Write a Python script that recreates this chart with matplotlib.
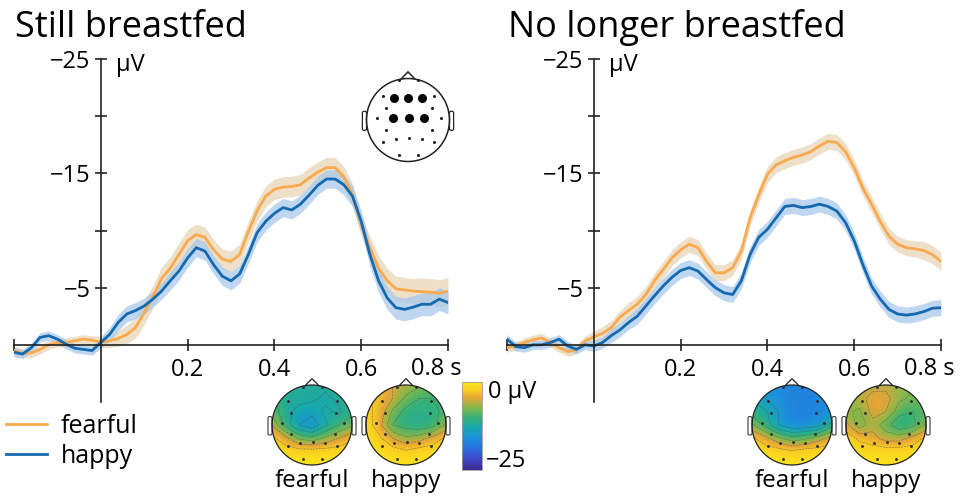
import numpy as np
import matplotlib
matplotlib.use("Agg")
import matplotlib.pyplot as plt
from matplotlib.colors import LinearSegmentedColormap, Normalize
from matplotlib.patches import Circle, Polygon, FancyBboxPatch
import matplotlib.cm as cm

plt.rcParams["font.family"] = ["Open Sans", "DejaVu Sans"]

# ---- ERP data (µV), sampled every 20 ms from -0.2 to 0.8 s ----
time_s = np.linspace(-0.2, 0.8, 51)

still_fearful = [0.5, 0.75, 0.7, 0.4, 0.0, -0.2, -0.2, -0.35, -0.5, -0.4,
                 -0.25, -0.35, -0.55, -0.9, -1.5, -2.8, -4.2, -5.8, -6.7, -7.9,
                 -9.1, -9.65, -9.4, -8.3, -7.5, -7.3, -7.9, -9.9, -11.7, -13.0,
                 -13.6, -13.8, -13.85, -14.0, -14.6, -15.1, -15.5, -15.5, -14.7, -13.1,
                 -10.5, -8.5, -6.7, -5.6, -4.9, -4.8, -4.7, -4.65, -4.6, -4.5, -4.7]
still_happy = [0.65, 0.8, 0.25, -0.65, -0.8, -0.5, -0.05, 0.3, 0.4, 0.5,
               -0.2, -0.9, -1.95, -2.7, -3.0, -3.4, -4.0, -4.7, -5.6, -6.45,
               -7.6, -8.5, -8.2, -7.0, -6.0, -5.6, -6.2, -7.9, -9.8, -10.8,
               -11.5, -12.0, -11.8, -12.3, -13.1, -13.95, -14.5, -14.5, -14.0, -13.0,
               -10.8, -7.9, -5.6, -4.1, -3.25, -3.1, -3.3, -3.55, -3.55, -4.0, -3.7]
nolonger_fearful = [0.25, 0.1, -0.2, -0.45, -0.6, -0.2, 0.25, 0.6, 0.4, -0.35,
                    -0.7, -1.0, -1.5, -2.4, -3.0, -3.55, -4.4, -5.6, -6.6, -7.6,
                    -8.3, -8.8, -8.5, -7.3, -6.3, -6.3, -6.75, -8.2, -11.1, -13.1,
                    -14.9, -15.75, -16.1, -16.4, -16.6, -16.9, -17.4, -17.8, -17.7, -16.9,
                    -15.5, -13.7, -12.3, -10.8, -9.5, -8.8, -8.5, -8.4, -8.25, -7.9, -7.3]
nolonger_happy = [-0.5, 0.15, 0.25, 0.0, 0.0, -0.2, -0.5, 0.1, 0.4, 0.0,
                  0.1, -0.2, -0.8, -1.3, -1.95, -2.5, -3.4, -4.3, -5.15, -5.9,
                  -6.5, -6.75, -6.45, -5.7, -5.0, -4.55, -4.4, -5.6, -7.9, -9.4,
                  -10.1, -11.1, -12.1, -12.2, -12.0, -12.1, -12.3, -12.1, -11.7, -10.7,
                  -9.1, -7.0, -5.15, -4.0, -3.1, -2.7, -2.6, -2.7, -2.9, -3.2, -3.25]

# standard error (half width of the shaded band)
still_fearful_sem = [0.4, 0.4, 0.4, 0.4, 0.4, 0.4, 0.4, 0.4, 0.4, 0.4,
                     0.5, 0.6, 0.7, 0.8, 0.9, 1.0, 1.0, 1.0, 1.0, 1.0,
                     1.0, 0.9, 0.9, 0.9, 0.9, 0.9, 0.9, 0.9, 0.9, 0.9,
                     0.9, 0.9, 0.9, 0.9, 0.9, 0.9, 0.9, 0.9, 0.9, 1.0,
                     1.0, 1.0, 1.1, 1.1, 1.1, 1.1, 1.1, 1.2, 1.2, 1.2, 1.2]
still_happy_sem = [0.4, 0.4, 0.4, 0.4, 0.4, 0.4, 0.4, 0.4, 0.4, 0.4,
                   0.5, 0.6, 0.7, 0.7, 0.7, 0.7, 0.7, 0.7, 0.8, 0.8,
                   0.8, 0.8, 0.8, 0.8, 0.8, 0.8, 0.8, 0.8, 0.8, 0.8,
                   0.8, 0.8, 0.8, 0.8, 0.8, 0.8, 0.8, 0.8, 0.9, 0.9,
                   0.9, 1.0, 1.0, 1.0, 1.0, 1.0, 1.0, 1.0, 1.0, 1.0, 1.0]
nolonger_fearful_sem = [0.4, 0.4, 0.4, 0.4, 0.4, 0.4, 0.4, 0.4, 0.4, 0.4,
                        0.5, 0.6, 0.6, 0.6, 0.7, 0.7, 0.7, 0.7, 0.7, 0.7,
                        0.7, 0.7, 0.7, 0.7, 0.7, 0.7, 0.7, 0.7, 0.7, 0.7,
                        0.7, 0.7, 0.7, 0.7, 0.7, 0.7, 0.7, 0.7, 0.7, 0.7,
                        0.7, 0.7, 0.7, 0.7, 0.7, 0.7, 0.7, 0.7, 0.8, 0.8, 0.8]
nolonger_happy_sem = [0.4, 0.4, 0.4, 0.4, 0.4, 0.4, 0.4, 0.4, 0.4, 0.4,
                      0.5, 0.5, 0.6, 0.6, 0.6, 0.7, 0.7, 0.7, 0.7, 0.7,
                      0.7, 0.7, 0.7, 0.7, 0.7, 0.7, 0.7, 0.7, 0.7, 0.7,
                      0.7, 0.7, 0.7, 0.7, 0.7, 0.7, 0.7, 0.7, 0.7, 0.7,
                      0.7, 0.7, 0.7, 0.7, 0.7, 0.7, 0.7, 0.7, 0.7, 0.7, 0.7]

conditions = ["fearful", "happy"]
panel_titles = ["Still breastfed", "No longer breastfed"]
x_ticks = [-0.2, 0.2, 0.4, 0.6, 0.8]
x_tick_labels = ["", "0.2", "0.4", "0.6", ""]
y_ticks = [-25, -20, -15, -10, -5]
y_tick_labels = ["\u221225", "", "\u221215", "", "\u22125"]

# ---- topographies (µV), 7x7 grid, front row first ----
topo_still_fearful = [[-10, -11, -12, -12, -12, -11, -10],
                      [-9, -12, -12, -12, -13, -12, -10],
                      [-8, -12, -13, -14, -12, -13, -11],
                      [-5, -11, -15, -17, -13, -10, -8],
                      [-2, -4, -8, -9, -7, -5, -3],
                      [0, -1, -1, -1, -1, -1, 0],
                      [0, 0, 0, 0, 0, 0, 0]]
topo_still_happy = [[-3, -4, -5, -6, -7, -8, -8],
                    [-2, -3, -5, -8, -10, -10, -9],
                    [-2, -3, -8, -11, -11, -11, -9],
                    [-1, -4, -10, -11, -12, -11, -7],
                    [0, -2, -5, -7, -6, -4, -2],
                    [0, -1, -1, -2, -1, -1, 0],
                    [0, 0, 0, 0, 0, 0, 0]]
topo_nolonger_fearful = [[-15, -16, -17, -17, -17, -16, -15],
                         [-13, -15, -16, -17, -17, -17, -16],
                         [-11, -12, -15, -17, -17, -17, -16],
                         [-7, -11, -15, -17, -17, -16, -11],
                         [-2, -4, -7, -9, -8, -6, -4],
                         [0, -1, -1, -2, -1, -1, 0],
                         [0, 0, 0, 0, 0, 0, 0]]
topo_nolonger_happy = [[-6, -6, -6, -6, -7, -7, -7],
                       [-6, -6, -4, -4, -7, -8, -8],
                       [-7, -8, -4, -5, -9, -10, -9],
                       [-4, -9, -6, -9, -12, -11, -7],
                       [-1, -3, -4, -6, -6, -4, -2],
                       [0, -1, -1, -1, -1, -1, 0],
                       [0, 0, 0, 0, 0, 0, 0]]

# electrode layout on a unit head (x right, y front)
elec_x = [-0.22, 0.24, -0.61, 0.63, -0.53, 0.59, -0.75, 0.80, -0.53, 0.57,
          -0.61, -0.30, 0.02, 0.33, 0.63, -0.22, 0.24,
          -0.33, 0.0, 0.34, -0.37, 0.02, 0.39]
elec_y = [0.96, 0.96, 0.59, 0.59, 0.30, 0.30, 0.04, 0.04, -0.23, -0.23,
          -0.53, -0.46, -0.43, -0.46, -0.53, -0.85, -0.85,
          0.53, 0.53, 0.53, 0.04, 0.04, 0.04]
roi_electrodes = [17, 18, 19, 20, 21, 22]

ORANGE = "#F9A94E"
ORANGE_BAND = "#EBDBBF"
BLUE = "#1469B0"
BLUE_BAND = "#A9C9EA"

topo_cmap = LinearSegmentedColormap.from_list(
    "erp", [(0.0, "#3B2A8E"), (0.12, "#4145C6"), (0.25, "#2970E4"),
            (0.36, "#1C90DC"), (0.48, "#17A8B0"), (0.60, "#38B275"),
            (0.72, "#8DB748"), (0.82, "#E5A537"), (0.90, "#F8CA24"),
            (1.0, "#FDE41A")])
topo_norm = Normalize(vmin=-25, vmax=0)

W, H = 964, 501
fig = plt.figure(figsize=(W / 100, H / 100), dpi=100)


def px_axes(x0, y0, w, h):
    # axes from pixel box (top-left origin)
    return fig.add_axes([x0 / W, 1 - (y0 + h) / H, w / W, h / H])


def draw_head(ax, lw=1.0):
    ax.add_patch(Circle((0, 0), 1.0, fill=False, lw=lw, ec="#222", zorder=5))
    ax.add_patch(Polygon([[-0.17, 0.985], [0, 1.16], [0.17, 0.985]], closed=False,
                         fill=False, lw=lw, ec="#222", zorder=5))
    for side in (-1, 1):
        ax.add_patch(FancyBboxPatch((1.0 if side > 0 else -1.1, -0.25), 0.1, 0.46,
                                    boxstyle="round,pad=0,rounding_size=0.04",
                                    fc="white", ec="#222", lw=lw * 0.8, zorder=4))
    ax.set_xlim(-1.35, 1.35)
    ax.set_ylim(-1.35, 1.35)
    ax.set_aspect("equal")
    ax.axis("off")


def draw_topo(ax, grid):
    grid = np.array(grid, dtype=float)
    g = np.linspace(-1, 1, grid.shape[0])
    half = 1 / (grid.shape[0] - 1)
    head = Circle((0, 0), 1.0, transform=ax.transData)
    im = ax.imshow(grid, extent=[-1 - half, 1 + half, -1 - half, 1 + half], origin="upper",
                   cmap=topo_cmap, norm=topo_norm, interpolation="bicubic", zorder=1)
    im.set_clip_path(head)
    cs = ax.contour(g, g[::-1], grid, levels=np.arange(-20, 0, 2.5), colors="#4a4a4a",
                    linewidths=0.4, alpha=0.7, zorder=2)
    cs.set_clip_path(head)
    ax.scatter(elec_x[:17], elec_y[:17], s=1.2, c="#333", zorder=3)
    draw_head(ax, lw=0.9)


panels = [
    (still_fearful, still_fearful_sem, still_happy, still_happy_sem,
     topo_still_fearful, topo_still_happy),
    (nolonger_fearful, nolonger_fearful_sem, nolonger_happy, nolonger_happy_sem,
     topo_nolonger_fearful, topo_nolonger_happy),
]
panel_x0 = [14, 507]
topo_centers = [(312, 406), (792, 886)]

for i, (f_vals, f_sem, h_vals, h_sem, topo_f, topo_h) in enumerate(panels):
    ax = px_axes(panel_x0[i], 59, 434, 343)
    f_vals = np.array(f_vals)
    h_vals = np.array(h_vals)
    f_sem = np.array(f_sem)
    h_sem = np.array(h_sem)
    ax.fill_between(time_s, f_vals - f_sem, f_vals + f_sem, color=ORANGE_BAND, alpha=0.85, lw=0)
    ax.fill_between(time_s, h_vals - h_sem, h_vals + h_sem, color=BLUE_BAND, alpha=0.75, lw=0)
    line_f, = ax.plot(time_s, f_vals, color=ORANGE, lw=2.0, label=conditions[0])
    line_h, = ax.plot(time_s, h_vals, color=BLUE, lw=2.0, label=conditions[1])

    ax.set_xlim(-0.2, 0.8)
    ax.set_ylim(5, -25)
    ax.patch.set_visible(False)
    for s in ["top", "right"]:
        ax.spines[s].set_visible(False)
    ax.spines["left"].set_position(("data", 0))
    ax.spines["bottom"].set_position(("data", 0))
    for s in ["left", "bottom"]:
        ax.spines[s].set_color("#222")
        ax.spines[s].set_linewidth(1.2)
    ax.set_xticks(x_ticks)
    ax.set_xticklabels(x_tick_labels)
    ax.set_yticks(y_ticks)
    ax.set_yticklabels(y_tick_labels)
    ax.tick_params(direction="inout", length=9, width=1.2, color="#222", labelsize=17)
    ax.tick_params(axis="x", pad=5)
    ax.tick_params(axis="y", pad=3)
    ax.text(0.772, 1.05, "0.8 s", fontsize=17, ha="center", va="top")
    ax.text(0.035, -24.5, "\u00b5V", fontsize=17, ha="left", va="center")
    fig.text((panel_x0[i] + 1) / W, 1 - 28 / H, panel_titles[i], fontsize=26, va="center")

    # topographic maps under the time axis
    for cx, grid, name in zip(topo_centers[i], [topo_f, topo_h], conditions):
        tax = px_axes(cx - 54, 425 - 54, 108, 108)
        draw_topo(tax, grid)
        fig.text(cx / W, 1 - 481 / H, name, fontsize=17.5, ha="center", va="center")

    if i == 0:
        ax.legend(handles=[line_f, line_h], loc="upper left",
                  bbox_to_anchor=(6 / W, 1 - 414 / H), bbox_transform=fig.transFigure,
                  frameon=False, fontsize=18, handlelength=1.65, handletextpad=0.55,
                  labelspacing=0.2, borderpad=0, borderaxespad=0)

# electrode inset
iax = px_axes(408 - 56, 120 - 56, 112, 112)
draw_head(iax, lw=1.1)
others = [k for k in range(len(elec_x)) if k not in roi_electrodes]
iax.scatter([elec_x[k] for k in others], [elec_y[k] for k in others], s=1.5, c="#222", zorder=6)
iax.scatter([elec_x[k] for k in roi_electrodes], [elec_y[k] for k in roi_electrodes],
            s=30, c="black", zorder=6)

# colour bar
cax = px_axes(462, 382, 20, 88)
cb = fig.colorbar(cm.ScalarMappable(norm=topo_norm, cmap=topo_cmap), cax=cax)
cb.set_ticks([])
cb.outline.set_linewidth(0.6)
cb.outline.set_edgecolor("#999")
fig.text(488 / W, 1 - 392 / H, "0 \u00b5V", fontsize=17, va="center")
fig.text(486 / W, 1 - 461 / H, "\u221225", fontsize=17, va="center")

fig.savefig("out.png", dpi=100)
